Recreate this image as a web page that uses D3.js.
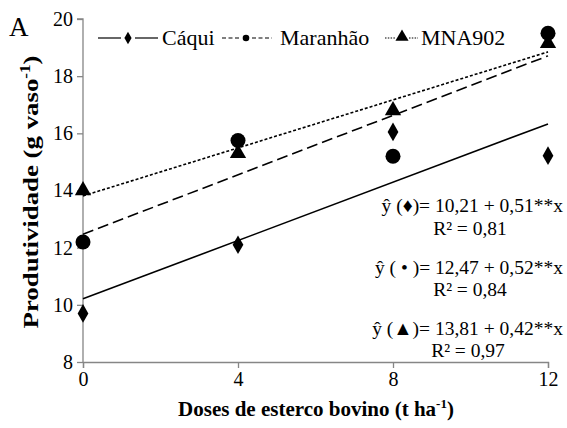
<!DOCTYPE html>
<html><head><meta charset="utf-8">
<script src="https://cdn.jsdelivr.net/npm/d3@7"></script>
<style>body{margin:0;background:#fff}svg{display:block}</style>
</head><body>
<svg id="c" width="567" height="428"></svg>
<script>
const doses = [0, 4, 8, 12];
const xTicks = [0, 4, 8, 12];
const yTicks = [8, 10, 12, 14, 16, 18, 20];
const caqui = [9.7, 12.1, 16.05, 15.22];
const maranhao = [12.2, 15.75, 15.2, 19.5];
const mna902 = [14.0, 15.3, 16.8, 19.15];
const fitCaqui = [10.21, 0.51];
const fitMaranhao = [12.47, 0.52];
const fitMna = [13.81, 0.42];
const eqLabels = ["ŷ (♦)= 10,21 + 0,51**x", "R² = 0,81", "ŷ ( • )= 12,47 + 0,52**x", "R² = 0,84", "ŷ (▲)= 13,81 + 0,42**x", "R² = 0,97"];

const FF = "Liberation Serif";
const svg = d3.select("#c");
const x = d3.scaleLinear().domain([0, 12]).range([83, 548]);
const y = d3.scaleLinear().domain([8, 20]).range([362, 19]);
const axCol = "#868686";

const gx = svg.append("g").attr("transform", "translate(0,362)")
  .call(d3.axisBottom(x).tickValues(xTicks).tickSize(6).tickPadding(4).tickFormat(d3.format("d")));
const gy = svg.append("g").attr("transform", "translate(83,0)")
  .call(d3.axisLeft(y).tickValues(yTicks).tickSize(6).tickPadding(4).tickFormat(d3.format("d")));
[gx, gy].forEach(g => {
  g.attr("font-family", FF).attr("font-size", 20);
  g.selectAll("path,line").attr("stroke", axCol).attr("stroke-width", 1.3);
  g.selectAll("text").attr("font-family", FF).attr("font-size", 20).attr("fill", "#000");
});
gy.select(".domain").attr("d", "M0,362V19H-6");

const fits = [
  {c: fitCaqui, dash: null},
  {c: fitMaranhao, dash: "11,5"},
  {c: fitMna, dash: "3,2"}
];
fits.forEach(f => {
  svg.append("line")
    .attr("x1", x(0)).attr("y1", y(f.c[0]))
    .attr("x2", x(12)).attr("y2", y(f.c[0] + f.c[1] * 12))
    .attr("stroke", "#000").attr("stroke-width", 1.6)
    .attr("stroke-dasharray", f.dash);
});

const diamond = d3.symbol().type(d3.symbolDiamond).size(100);
const tri = d3.symbol().type(d3.symbolTriangle).size(115);
doses.forEach((d, i) => {
  svg.append("path").attr("d", tri()).attr("transform", `translate(${x(d)},${y(mna902[i])})`).attr("fill", "#000");
  svg.append("circle").attr("cx", x(d)).attr("cy", y(maranhao[i])).attr("r", 7.5).attr("fill", "#000");
  svg.append("path").attr("d", diamond()).attr("transform", `translate(${x(d)},${y(caqui[i])})`).attr("fill", "#000");
});

function txt(sel) { return sel.attr("font-family", FF); }

const ly = 38;
const lg = svg.append("g");
lg.append("line").attr("x1", 98).attr("x2", 121).attr("y1", ly).attr("y2", ly).attr("stroke", "#000").attr("stroke-width", 1.2);
lg.append("path").attr("d", d3.symbol().type(d3.symbolDiamond).size(45)()).attr("transform", `translate(128,${ly})`);
lg.append("line").attr("x1", 135).attr("x2", 158).attr("y1", ly).attr("y2", ly).attr("stroke", "#000").attr("stroke-width", 1.2);
txt(lg.append("text").attr("x", 162).attr("y", ly + 7).attr("font-size", 22).text("Cáqui"));
lg.append("line").attr("x1", 222).attr("x2", 241).attr("y1", ly).attr("y2", ly).attr("stroke", "#000").attr("stroke-width", 1.2).attr("stroke-dasharray", "4,2.5");
lg.append("circle").attr("cx", 246).attr("cy", ly).attr("r", 3.3);
lg.append("line").attr("x1", 252).attr("x2", 272).attr("y1", ly).attr("y2", ly).attr("stroke", "#000").attr("stroke-width", 1.2).attr("stroke-dasharray", "4,2.5");
txt(lg.append("text").attr("x", 280).attr("y", ly + 7).attr("font-size", 22).text("Maranhão"));
lg.append("line").attr("x1", 385).attr("x2", 395).attr("y1", ly).attr("y2", ly).attr("stroke", "#000").attr("stroke-width", 1.2).attr("stroke-dasharray", "1.5,1.3");
lg.append("path").attr("d", d3.symbol().type(d3.symbolTriangle).size(75)()).attr("transform", `translate(402,${ly - 1})`);
lg.append("line").attr("x1", 409).attr("x2", 418).attr("y1", ly).attr("y2", ly).attr("stroke", "#000").attr("stroke-width", 1.2).attr("stroke-dasharray", "1.5,1.3");
txt(lg.append("text").attr("x", 421).attr("y", ly + 7).attr("font-size", 22).text("MNA902"));

txt(svg.append("text").attr("x", 9).attr("y", 36).attr("font-size", 27).text("A"));

const eqPos = [[563, 212, "end"], [470, 235, "middle"], [563, 274, "end"], [470, 296, "middle"], [563, 335, "end"], [468, 357, "middle"]];
eqLabels.forEach((t, i) => txt(svg.append("text").attr("x", eqPos[i][0]).attr("y", eqPos[i][1]).attr("text-anchor", eqPos[i][2])
    .attr("font-size", 19.5).text(t)));

const xt = txt(svg.append("text").attr("x", 316).attr("y", 416).attr("text-anchor", "middle")
  .attr("font-size", 21).attr("font-weight", "bold"));
xt.append("tspan").text("Doses de esterco bovino (t ha");
xt.append("tspan").attr("font-size", 13).attr("dy", -8).text("-1");
xt.append("tspan").attr("dy", 8).text(")");

const yt = txt(svg.append("text").attr("transform", "translate(38,192) rotate(-90) scale(1.22,1)").attr("text-anchor", "middle")
  .attr("font-size", 22).attr("font-weight", "bold"));
yt.append("tspan").text("Produtividade (g vaso");
yt.append("tspan").attr("font-size", 14).attr("dy", -8).text("-1");
yt.append("tspan").attr("dy", 8).text(")");
</script>
</body></html>
